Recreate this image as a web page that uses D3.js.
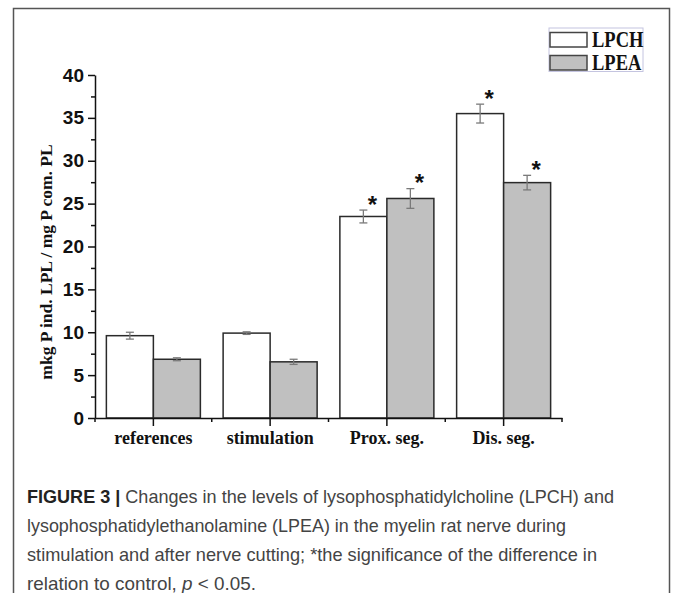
<!DOCTYPE html>
<html>
<head>
<meta charset="utf-8">
<script src="https://cdn.jsdelivr.net/npm/d3@7"></script>
<style>
  body { margin: 0; background: #fff; }
  #lplGraph svg { display: block; }
</style>
</head>
<body>
<div id="lplGraph"></div>
<script>
// data
var categories = ["references", "stimulation", "Prox. seg.", "Dis. seg."];
var seriesNames = ["LPCH", "LPEA"];
var lpchValues = [9.6, 9.9, 23.5, 35.5];
var lpchErrors = [0.4, 0.15, 0.75, 1.1];
var lpchSignificant = [false, false, true, true];
var lpeaValues = [6.85, 6.55, 25.6, 27.45];
var lpeaErrors = [0.17, 0.3, 1.15, 0.85];
var lpeaSignificant = [false, false, true, true];
var yTickValues = [0, 5, 10, 15, 20, 25, 30, 35, 40];
var yMinorTickValues = [2.5, 7.5, 12.5, 17.5, 22.5, 27.5, 32.5, 37.5];
var yLabel = "mkg P ind. LPL / mg P com. PL";
var captionLines = [
  [{ t: "FIGURE 3 | ", b: true }, { t: "Changes in the levels of lysophosphatidylcholine (LPCH) and" }],
  [{ t: "lysophosphatidylethanolamine (LPEA) in the myelin rat nerve during" }],
  [{ t: "stimulation and after nerve cutting; *the significance of the difference in" }],
  [{ t: "relation to control, " }, { t: "p", i: true }, { t: " < 0.05." }]
];
var captionWidths = [587, 539, 570, 229];

var lplGraphMargin = { top: 75, right: 111, bottom: 175, left: 95 },
  lplGraphWidth = 673 - lplGraphMargin.left - lplGraphMargin.right,
  lplGraphHeight = 593 - lplGraphMargin.top - lplGraphMargin.bottom;

var seriesColor = { LPCH: "#ffffff", LPEA: "#c0c0c0" };

var rows = categories.map(function (c, i) {
  return {
    category: c,
    bars: [
      { name: "LPCH", value: lpchValues[i], err: lpchErrors[i], sig: lpchSignificant[i] },
      { name: "LPEA", value: lpeaValues[i], err: lpeaErrors[i], sig: lpeaSignificant[i] }
    ]
  };
});

var svgRoot = d3.select("#lplGraph").append("svg")
  .attr("width", 673)
  .attr("height", 593);

// figure frame
svgRoot.append("rect")
  .attr("x", 13.5).attr("y", 8.5)
  .attr("width", 656).attr("height", 620)
  .attr("fill", "#fff")
  .attr("stroke", "#555")
  .attr("stroke-width", 1.5);

var lplGraphSVG = svgRoot.append("g")
  .attr("transform", "translate(" + lplGraphMargin.left + "," + lplGraphMargin.top + ")");

// scales
var xCoordinate = d3.scaleBand().domain(categories).range([0, lplGraphWidth]).padding(0);
var xInner = d3.scaleBand().domain(seriesNames).range([0, xCoordinate.bandwidth()])
  .paddingInner(0).paddingOuter(0.242);
var yCoordinate = d3.scaleLinear().domain([0, 40]).range([lplGraphHeight, 0]);

// bars
var groups = lplGraphSVG.selectAll(".group")
  .data(rows)
  .enter().append("g")
  .attr("class", "group")
  .attr("transform", function (d) { return "translate(" + xCoordinate(d.category) + ",0)"; });

groups.selectAll("rect")
  .data(function (d) { return d.bars; })
  .enter().append("rect")
  .attr("x", function (d) { return xInner(d.name); })
  .attr("y", function (d) { return yCoordinate(d.value); })
  .attr("width", xInner.bandwidth())
  .attr("height", function (d) { return lplGraphHeight - yCoordinate(d.value); })
  .attr("fill", function (d) { return seriesColor[d.name]; })
  .attr("stroke", "#2a2a2a")
  .attr("stroke-width", 1.5);

// error bars
var errG = groups.selectAll(".err")
  .data(function (d) { return d.bars; })
  .enter().append("g")
  .attr("class", "err");

errG.append("line")
  .attr("x1", function (d) { return xInner(d.name) + xInner.bandwidth() / 2; })
  .attr("x2", function (d) { return xInner(d.name) + xInner.bandwidth() / 2; })
  .attr("y1", function (d) { return yCoordinate(d.value + d.err); })
  .attr("y2", function (d) { return yCoordinate(d.value - d.err); });

[1, -1].forEach(function (s) {
  errG.append("line")
    .attr("x1", function (d) { return xInner(d.name) + xInner.bandwidth() / 2 - 4; })
    .attr("x2", function (d) { return xInner(d.name) + xInner.bandwidth() / 2 + 4; })
    .attr("y1", function (d) { return yCoordinate(d.value + s * d.err); })
    .attr("y2", function (d) { return yCoordinate(d.value + s * d.err); });
});

// significance stars
groups.selectAll(".star")
  .data(function (d) { return d.bars.filter(function (b) { return b.sig; }); })
  .enter().append("text")
  .attr("class", "star")
  .attr("x", function (d) { return xInner(d.name) + xInner.bandwidth() / 2 + 9; })
  .attr("y", function (d) { return yCoordinate(d.value + d.err) - 11 + 13.5; })
  .attr("text-anchor", "middle")
  .style("font-family", "'Liberation Sans', Arial, sans-serif")
  .style("font-weight", "bold")
  .style("font-size", "24px")
  .attr("fill", "#111")
  .text("*");

// Add the Y Axis
var yAxis = d3.axisLeft(yCoordinate).tickValues(yTickValues).tickSize(7).tickSizeOuter(0).tickPadding(4);
var yAxisG = lplGraphSVG.append("g").attr("class", "y axis").call(yAxis);
lplGraphSVG.append("g")
  .call(d3.axisLeft(yCoordinate).tickValues(yMinorTickValues).tickSize(4).tickSizeOuter(0).tickFormat(""))
  .select(".domain").remove();

// Add the X Axis
var xAxis = d3.axisBottom(xCoordinate).tickSize(8).tickSizeOuter(0).tickPadding(5);
var xAxisG = lplGraphSVG.append("g")
  .attr("class", "x axis")
  .attr("transform", "translate(0," + lplGraphHeight + ")")
  .call(xAxis);

var boundaries = categories.map(function (c) { return xCoordinate(c); }).concat([lplGraphWidth]);
xAxisG.selectAll(".minor")
  .data(boundaries)
  .enter().append("line")
  .attr("class", "minor")
  .attr("x1", function (d) { return d; })
  .attr("x2", function (d) { return d; })
  .attr("y1", 0).attr("y2", 4);

lplGraphSVG.selectAll(".axis path, .axis line, g line").attr("stroke", "#111").attr("stroke-width", 1.5);
lplGraphSVG.selectAll(".err line").attr("stroke", "#7a7a7a").attr("stroke-width", 1.3);

yAxisG.selectAll("text")
  .style("font-family", "'Liberation Sans', Arial, sans-serif")
  .style("font-weight", "bold")
  .style("font-size", "19px")
  .attr("fill", "#111");

xAxisG.selectAll(".tick text")
  .style("font-family", "'Liberation Serif', 'Times New Roman', serif")
  .style("font-weight", "bold")
  .style("font-size", "18px")
  .attr("fill", "#111");

// y label
svgRoot.append("text")
  .attr("transform", "translate(46," + (lplGraphMargin.top + 187) + ") rotate(-90)")
  .attr("text-anchor", "middle")
  .attr("dy", "0.35em")
  .style("font-family", "'Liberation Serif', 'Times New Roman', serif")
  .style("font-weight", "bold")
  .style("font-size", "17.5px")
  .attr("fill", "#111")
  .text(yLabel);

// legend
var legend = svgRoot.append("g").attr("transform", "translate(549,28)");
legend.append("rect")
  .attr("x", 0).attr("y", 0).attr("width", 94).attr("height", 43.5)
  .attr("fill", "#fff")
  .attr("stroke", "#c4c4e0")
  .attr("stroke-width", 1);
seriesNames.forEach(function (s, i) {
  legend.append("rect")
    .attr("x", 1).attr("y", 4.5 + i * 23)
    .attr("width", 37).attr("height", 14.5)
    .attr("fill", seriesColor[s])
    .attr("stroke", "#444")
    .attr("stroke-width", 1.5);
  legend.append("text")
    .attr("transform", "translate(43," + (19 + i * 23) + ") scale(1,1.2)")
    .style("font-family", "'Liberation Serif', 'Times New Roman', serif")
    .style("font-weight", "bold")
    .style("font-size", "18.5px")
    .attr("fill", "#111")
    .text(s);
});

// caption
captionLines.forEach(function (line, i) {
  var t = svgRoot.append("text")
    .attr("x", 27)
    .attr("y", 503 + i * 29)
    .attr("textLength", captionWidths[i])
    .attr("lengthAdjust", "spacingAndGlyphs")
    .style("font-family", "'Liberation Sans', Arial, sans-serif")
    .style("font-size", "18.5px")
    .attr("fill", "#444");
  line.forEach(function (p) {
    t.append("tspan")
      .style("font-weight", p.b ? "bold" : "normal")
      .style("font-style", p.i ? "italic" : "normal")
      .attr("fill", p.b ? "#222" : "#444")
      .text(p.t);
  });
});
</script>
</body>
</html>
